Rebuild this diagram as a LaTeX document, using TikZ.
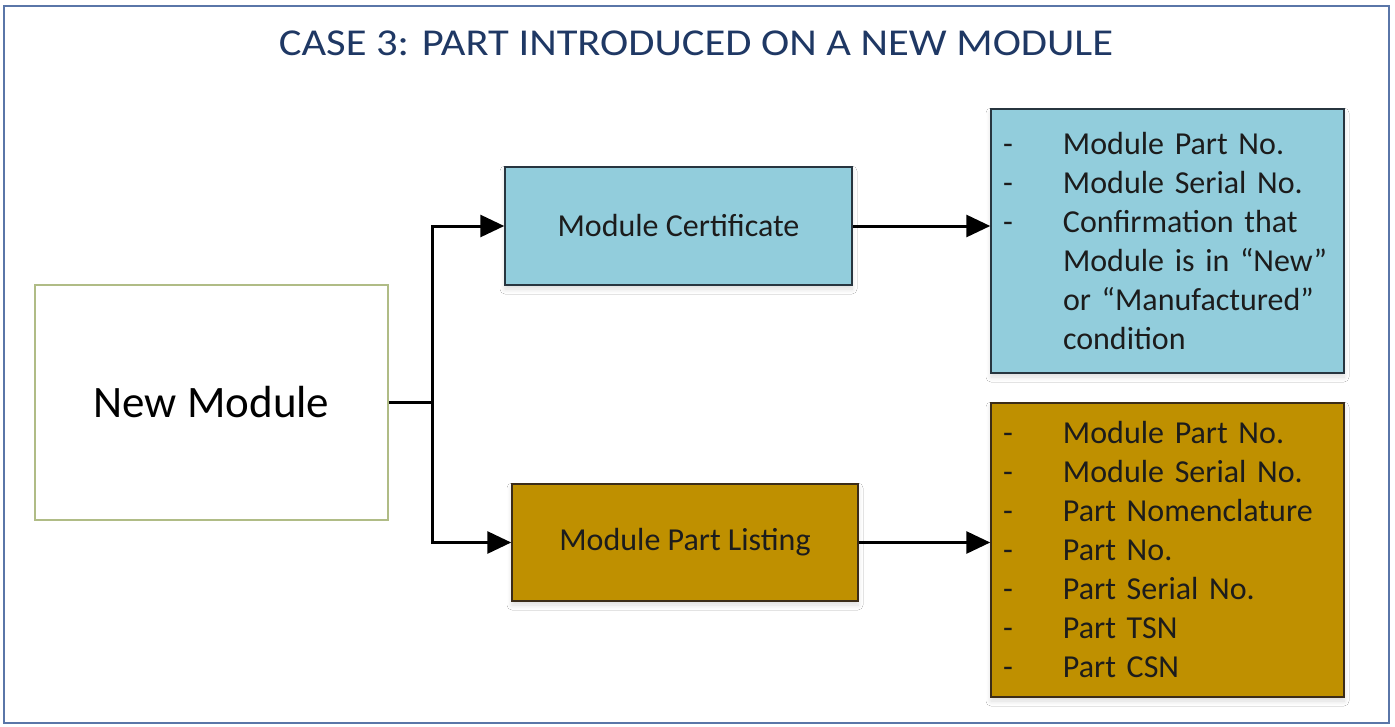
\documentclass[tikz,border=0pt]{standalone}
\usepackage{graphicx}
\usepackage{fontspec}
\setmainfont{Carlito}
\usetikzlibrary{arrows.meta,shadows.blur}

\definecolor{frameblue}{HTML}{5A76A8}
\definecolor{titlenavy}{HTML}{1F3864}
\definecolor{olivebrd}{HTML}{B0BC86}
\definecolor{certfill}{HTML}{92CDDC}
\definecolor{certbrd}{HTML}{27353F}
\definecolor{listfill}{HTML}{BF9000}
\definecolor{listbrd}{HTML}{3B2C18}
\definecolor{inktext}{HTML}{1C1C1C}
\definecolor{shadowtint}{HTML}{8FA6C8}

\newcommand{\dsh}{\makebox[60pt][l]{-}}
\newcommand{\ind}{\makebox[60pt][l]{}}

\tikzset{
  softshadow/.style={blur shadow={shadow xshift=0pt, shadow yshift=-4pt,
      shadow blur radius=5pt, shadow opacity=14, shadow blur extra rounding=0pt,
      shadow blur steps=8, fill=shadowtint}},
  docbox/.style={rectangle, line width=1.5pt, softshadow, text=inktext,
      font=\fontsize{32}{39}\selectfont, inner sep=0pt},
  certbox/.style={docbox, draw=certbrd, fill=certfill},
  listbox/.style={docbox, draw=listbrd, fill=listfill},
  itembox/.style={text width=329pt, align=left, inner xsep=12pt, inner ysep=0pt},
  conn/.style={line width=3pt, black},
  arr/.style={conn, -{Triangle[length=24pt,width=22pt]}},
}

\begin{document}
\begin{tikzpicture}[x=1pt,y=-1pt]
\useasboundingbox (0,0) rectangle (1395,726);
\fill[white] (0,0) rectangle (1395,726);

% outer frame
\draw[frameblue, line width=2pt] (4,6) rectangle (1389,723);

% heading
\node[anchor=base, text=titlenavy, font=\fontsize{38}{44}\selectfont, inner sep=0pt]
  (ttl) at (696,55) {\scalebox{1.12}[1]{CASE 3: PART INTRODUCED ON A NEW MODULE}};

% source module
\node[rectangle, draw=olivebrd, line width=1.5pt, fill=white,
      minimum width=353pt, minimum height=235pt, inner sep=0pt,
      font=\fontsize{45}{54}\selectfont, text=black]
  (nm) at (211.5,402.5) {New Module};

% documents
\node[certbox, minimum width=347pt, minimum height=118pt]
  (mc) at (678.5,226) {Module Certificate};
\node[listbox, minimum width=346pt, minimum height=117pt]
  (mpl) at (685,542.5) {Module Part Listing};

% contents of the documents
\node[certbox, itembox, minimum width=353pt, minimum height=264pt]
  (cl) at (1167.5,241) {%
  \dsh Module Part No.\\
  \dsh Module Serial No.\\
  \dsh Confirmation that\\
  \ind Module is in “New”\\
  \ind or “Manufactured”\\
  \ind condition};
\node[listbox, itembox, minimum width=353pt, minimum height=294pt]
  (gl) at (1167.5,550) {%
  \dsh Module Part No.\\
  \dsh Module Serial No.\\
  \dsh Part Nomenclature\\
  \dsh Part No.\\
  \dsh Part Serial No.\\
  \dsh Part TSN\\
  \dsh Part CSN};

% connectors
\coordinate (jn) at (432,402.5);
\draw[conn] (nm.east) -- (jn);
\draw[arr] (jn) |- (mc.west);
\draw[arr] (jn) |- (mpl.west);
\draw[arr] (mc.east) -- (mc.east -| cl.west);
\draw[arr] (mpl.east) -- (mpl.east -| gl.west);
\end{tikzpicture}
\end{document}
